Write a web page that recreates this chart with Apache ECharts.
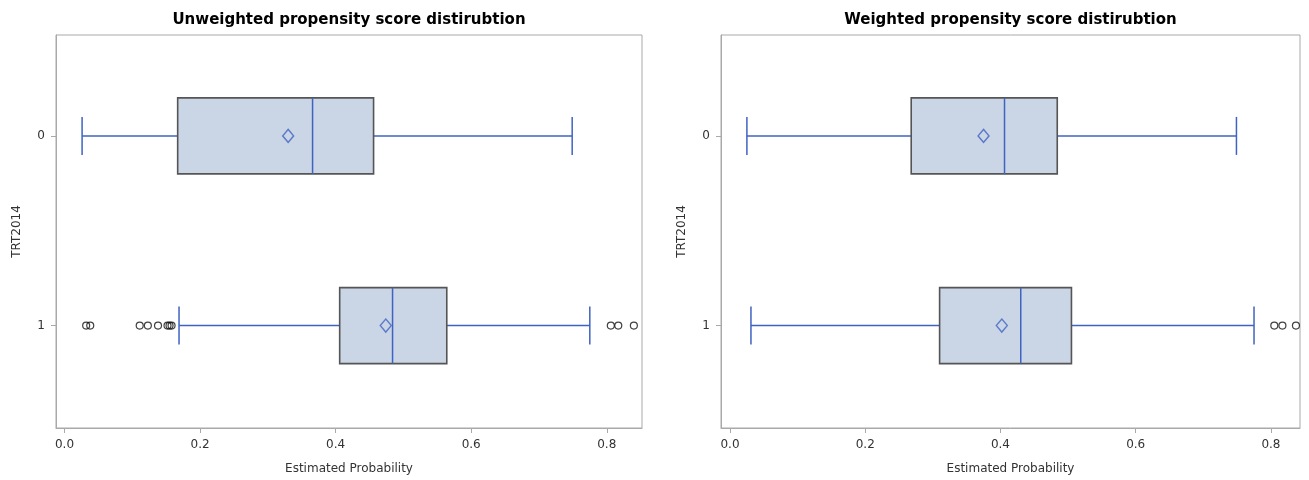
<!DOCTYPE html>
<html><head><meta charset="utf-8">
<script src="https://cdn.jsdelivr.net/npm/echarts@6/dist/echarts.min.js"></script>
<style>html,body{margin:0;padding:0;background:#fff}#c{width:1309px;height:480px}</style>
</head><body><div id="c"></div>
<script>
// ---- data ----
const categories = [0, 1];            // TRT2014 groups
const categoryLabels = ['0', '1'];
const xTicks = [0, 0.2, 0.4, 0.6, 0.8];
const titles = ['Unweighted propensity score distirubtion', 'Weighted propensity score distirubtion'];
// box stats: [lower whisker, Q1, median, Q3, upper whisker]
const unweightedBox0 = [0.026, 0.167, 0.366, 0.456, 0.749];
const unweightedBox1 = [0.169, 0.406, 0.484, 0.564, 0.775];
const unweightedMeans = [0.330, 0.474];
const unweightedOutliers1 = [0.032, 0.038, 0.111, 0.123, 0.138, 0.152, 0.155, 0.158, 0.806, 0.817, 0.840];
const weightedBox0 = [0.025, 0.268, 0.406, 0.484, 0.749];
const weightedBox1 = [0.031, 0.310, 0.430, 0.505, 0.775];
const weightedMeans = [0.375, 0.402];
const weightedOutliers1 = [0.805, 0.817, 0.837];

const FONT = 'DejaVu Sans';
const BLUE = '#3F63C2';
const AXIS = '#a9a9a9';
const TXT = '#333';

function renderBox(params, api) {
  const c = api.value(0);
  const p = [1, 2, 3, 4, 5].map(i => api.coord([api.value(i), c]));
  const cy = p[0][1];
  const half = 38, cap = 19;
  const ls = { stroke: BLUE, lineWidth: 1.5 };
  return {
    type: 'group', children: [
      { type: 'line', shape: { x1: p[0][0], y1: cy, x2: p[1][0], y2: cy }, style: ls },
      { type: 'line', shape: { x1: p[3][0], y1: cy, x2: p[4][0], y2: cy }, style: ls },
      { type: 'line', shape: { x1: p[0][0], y1: cy - cap, x2: p[0][0], y2: cy + cap }, style: ls },
      { type: 'line', shape: { x1: p[4][0], y1: cy - cap, x2: p[4][0], y2: cy + cap }, style: ls },
      { type: 'rect', shape: { x: p[1][0], y: cy - half, width: p[3][0] - p[1][0], height: 2 * half },
        style: { fill: '#CAD5E5', stroke: '#555', lineWidth: 1.6 } },
      { type: 'line', shape: { x1: p[2][0], y1: cy - half, x2: p[2][0], y2: cy + half }, style: ls }
    ]
  };
}

const grids = [
  { left: 56, top: 35, width: 586, height: 394 },
  { left: 721, top: 35, width: 579, height: 394 }
];
const xRanges = [[-0.0125, 0.852], [-0.0133, 0.843]];

const panels = [
  { boxes: [unweightedBox0, unweightedBox1], means: unweightedMeans, out1: unweightedOutliers1 },
  { boxes: [weightedBox0, weightedBox1], means: weightedMeans, out1: weightedOutliers1 }
];

const option = {
  animation: false,
  backgroundColor: '#fff',
  textStyle: { fontFamily: FONT },
  graphic: titles.map((t, i) => ({
    type: 'text', x: grids[i].left + grids[i].width / 2, y: 20,
    style: { text: t, align: 'center', verticalAlign: 'middle', font: 'bold 15px "' + FONT + '"', fill: '#000' }
  })),
  grid: grids.map(g => Object.assign({ show: true, borderColor: AXIS, borderWidth: 1, backgroundColor: '#fff' }, g)),
  xAxis: grids.map((g, i) => ({
    type: 'value', gridIndex: i, min: xRanges[i][0], max: xRanges[i][1],
    name: 'Estimated Probability', nameLocation: 'middle', nameGap: 35,
    nameTextStyle: { color: TXT, fontSize: 12, fontFamily: FONT },
    axisLine: { show: true, onZero: false, lineStyle: { color: AXIS } },
    axisTick: { show: true, length: 5, lineStyle: { color: AXIS }, customValues: xTicks },
    axisLabel: { color: TXT, fontSize: 12, fontFamily: FONT, margin: 11, customValues: xTicks,
      formatter: v => v.toFixed(1) },
    splitLine: { show: false }
  })),
  yAxis: grids.map((g, i) => ({
    type: 'value', gridIndex: i, inverse: true, min: -0.532, max: 1.54,
    name: 'TRT2014', nameLocation: 'middle', nameGap: 33, nameRotate: 90,
    nameTextStyle: { color: TXT, fontSize: 12, fontFamily: FONT },
    axisLine: { show: true, onZero: false, lineStyle: { color: AXIS } },
    axisTick: { show: true, length: 5, lineStyle: { color: AXIS }, customValues: categories },
    axisLabel: { color: TXT, fontSize: 12, fontFamily: FONT, margin: 11, customValues: categories,
      formatter: v => categoryLabels[Math.round(v)] },
    splitLine: { show: false }
  })),
  series: []
};

panels.forEach((pn, i) => {
  option.series.push({
    type: 'custom', xAxisIndex: i, yAxisIndex: i,
    renderItem: renderBox,
    encode: { x: [1, 2, 3, 4, 5], y: 0 },
    data: pn.boxes.map((b, k) => [categories[k]].concat(b))
  });
  option.series.push({
    type: 'scatter', xAxisIndex: i, yAxisIndex: i, symbol: 'diamond', symbolSize: [11, 13],
    itemStyle: { color: 'rgba(0,0,0,0)', borderColor: BLUE, borderWidth: 1.4 },
    data: pn.means.map((m, k) => [m, categories[k]]), z: 5
  });
  option.series.push({
    type: 'scatter', xAxisIndex: i, yAxisIndex: i, symbol: 'circle', symbolSize: 7,
    itemStyle: { color: 'rgba(0,0,0,0)', borderColor: '#111', borderWidth: 1.2 },
    data: pn.out1.map(v => [v, categories[1]]), z: 5
  });
});

const chart = echarts.init(document.getElementById('c'), null, { renderer: 'canvas' });
chart.setOption(option);
</script>
</body></html>
